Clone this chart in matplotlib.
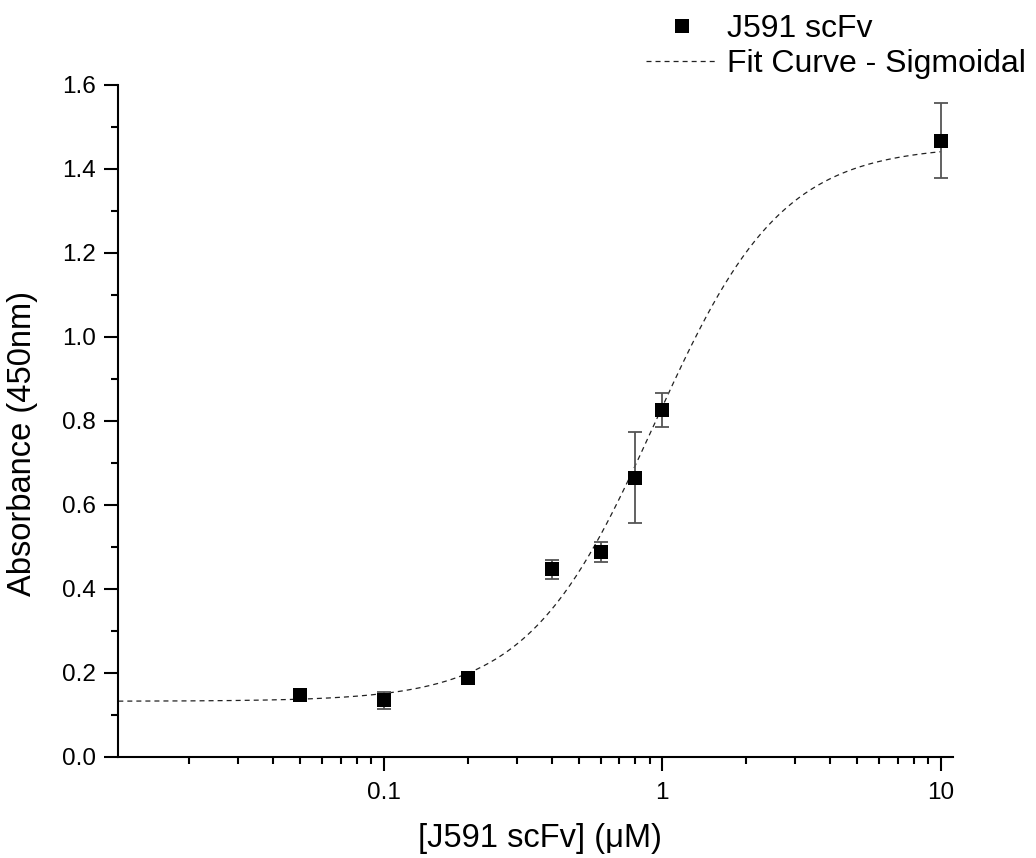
import numpy as np
import matplotlib
matplotlib.use("Agg")
import matplotlib.pyplot as plt
from matplotlib.ticker import LogLocator, FixedLocator, MultipleLocator, NullFormatter

plt.rcParams['font.family'] = ['Liberation Sans', 'DejaVu Sans']
plt.rcParams['lines.scale_dashes'] = False

# ---- data ----
conc_uM = [0.05, 0.1, 0.2, 0.4, 0.6, 0.8, 1.0, 10.0]
absorbance = [0.147, 0.134, 0.188, 0.446, 0.487, 0.664, 0.825, 1.467]
abs_err = [0.0, 0.020, 0.0, 0.023, 0.024, 0.108, 0.041, 0.089]

# sigmoidal (logistic) fit parameters estimated from the drawn curve
fit_A1 = 0.132
fit_A2 = 1.455
fit_x0 = 0.9385
fit_p = 1.9
fit_range = [0.0111, 10.0]

x_ticks = [0.1, 1, 10]
x_ticklabels = ['0.1', '1', '10']
y_ticks = [0.0, 0.2, 0.4, 0.6, 0.8, 1.0, 1.2, 1.4, 1.6]

series_label = 'J591 scFv'
fit_label = 'Fit Curve - Sigmoidal'
x_label = '[J591 scFv] (\u03bcM)'
y_label = 'Absorbance (450nm)'

W, H = 1036, 858
fig = plt.figure(figsize=(W / 100, H / 100), dpi=100)
ax_l, ax_r, ax_t, ax_b = 118.3, 953.3, 84.7, 756.7
ax = fig.add_axes([ax_l / W, 1 - ax_b / H, (ax_r - ax_l) / W, (ax_b - ax_t) / H])

# fit curve
xf = np.logspace(np.log10(fit_range[0]), np.log10(fit_range[1]), 400)
yf = fit_A1 + (fit_A2 - fit_A1) / (1 + (fit_x0 / xf) ** fit_p)
ax.plot(xf, yf, color='#222222', lw=0.9, linestyle=(0, (3.6, 2.9)),
        label=fit_label, zorder=2)

# error bars
ax.errorbar(conc_uM, absorbance, yerr=abs_err, fmt='none', ecolor='#555555',
            elinewidth=1.3, capsize=5, capthick=1.3, zorder=3)
# markers
ax.plot(conc_uM, absorbance, linestyle='none', marker='s', ms=10,
        color='black', markeredgewidth=0, label=series_label, zorder=4)

ax.set_xscale('log')
ax.set_xlim(0.0111, 11.1)
ax.set_ylim(0, 1.6)

ax.xaxis.set_major_locator(FixedLocator(x_ticks))
ax.set_xticklabels(x_ticklabels)
ax.xaxis.set_minor_locator(LogLocator(base=10, subs=np.arange(2, 10)))
ax.xaxis.set_minor_formatter(NullFormatter())
ax.yaxis.set_major_locator(FixedLocator(y_ticks))
ax.set_yticklabels([f'{v:.1f}' for v in y_ticks])
ax.yaxis.set_minor_locator(MultipleLocator(0.1))

for s in ['top', 'right']:
    ax.spines[s].set_visible(False)
for s in ['left', 'bottom']:
    ax.spines[s].set_linewidth(1.5)

ax.tick_params(which='major', direction='out', length=10, width=1.5,
               labelsize=17.5, pad=6)
ax.tick_params(which='minor', direction='out', length=5, width=1.5)
ax.tick_params(axis='x', which='major', pad=8)

ax.set_xlabel(x_label, fontsize=23.5)
ax.set_ylabel(y_label, fontsize=23.5)
ax.xaxis.label.set_va('center')
ax.yaxis.label.set_va('center')
ax.xaxis.set_label_coords((540 - ax_l) / (ax_r - ax_l), (ax_b - 839) / (ax_b - ax_t))
ax.yaxis.set_label_coords((23 - ax_l) / (ax_r - ax_l), (ax_b - 444) / (ax_b - ax_t))

handles, labels = ax.get_legend_handles_labels()
order = [labels.index(series_label), labels.index(fit_label)]
leg = ax.legend([handles[i] for i in order], [labels[i] for i in order],
                loc='upper left', bbox_to_anchor=(646 / W, 1 - 14 / H),
                bbox_transform=fig.transFigure, frameon=False, fontsize=23,
                handlelength=2.25, handletextpad=0.3, labelspacing=0.15,
                borderpad=0, borderaxespad=0)

fig.savefig('out.png', dpi=100)
